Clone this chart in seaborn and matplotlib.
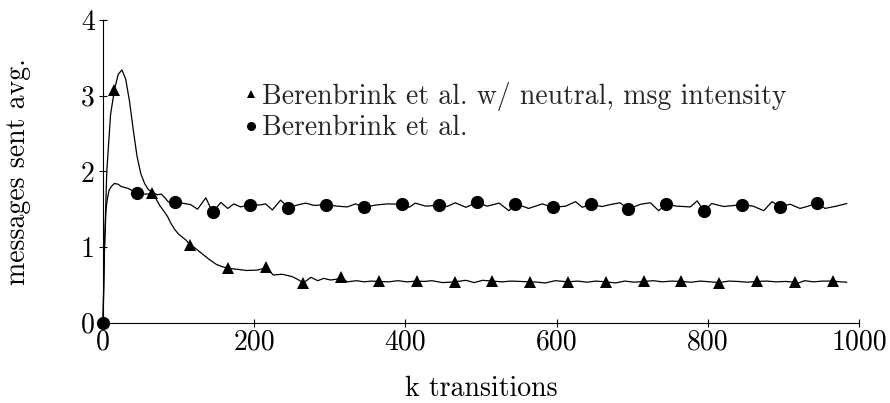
import numpy as np
import pandas as pd
import matplotlib
matplotlib.use("Agg")
import matplotlib.pyplot as plt
import seaborn as sns
from matplotlib.lines import Line2D

# ---- data ----
tri_k = [0, 2, 5, 10, 15, 20, 25, 30, 35, 40, 45, 50, 55, 60, 65, 70, 75, 80, 85, 90,
         95, 100, 105, 110, 115, 120, 130, 140, 150, 158, 165, 178, 190, 204, 210, 215,
         220, 225, 237, 250, 258, 265, 275, 284, 292, 301, 309, 315, 323, 336, 345, 355,
         365, 378, 390, 402, 415, 425, 435, 449, 465, 480, 491, 502, 515, 528, 540, 552,
         565, 575, 585, 598, 615, 628, 640, 652, 665, 678, 690, 703, 715, 728, 740, 752,
         765, 778, 790, 803, 815, 828, 840, 853, 865, 878, 890, 903, 915, 920, 928, 940,
         952, 965, 975, 984]
tri_v = [0.0, 1.0, 2.0, 2.75, 3.07, 3.28, 3.34, 3.22, 2.93, 2.55, 2.2, 1.97, 1.84, 1.76,
         1.72, 1.64, 1.55, 1.48, 1.41, 1.31, 1.23, 1.17, 1.13, 1.09, 1.03, 1.0, 0.92, 0.84,
         0.77, 0.74, 0.72, 0.705, 0.69, 0.695, 0.71, 0.73, 0.69, 0.63, 0.64, 0.61, 0.57,
         0.525, 0.60, 0.555, 0.586, 0.564, 0.575, 0.60, 0.54, 0.555, 0.54, 0.55, 0.545,
         0.54, 0.555, 0.54, 0.55, 0.545, 0.555, 0.53, 0.54, 0.56, 0.53, 0.56, 0.55, 0.54,
         0.55, 0.545, 0.54, 0.535, 0.525, 0.555, 0.54, 0.55, 0.535, 0.55, 0.54, 0.525,
         0.55, 0.535, 0.545, 0.555, 0.54, 0.55, 0.545, 0.535, 0.55, 0.54, 0.53, 0.55,
         0.545, 0.535, 0.545, 0.55, 0.54, 0.545, 0.535, 0.525, 0.555, 0.54, 0.55, 0.55,
         0.54, 0.535]

circ_k = [0, 2, 4, 6, 8, 11, 15, 20, 24, 33, 40, 45, 52, 59, 65, 68, 72, 77, 82, 86, 90,
          95, 105, 116, 125, 136, 145, 156, 165, 173, 182, 195, 207, 215, 224, 235, 245,
          257, 268, 279, 295, 310, 323, 334, 345, 361, 376, 395, 405, 413, 427, 445, 455,
          466, 480, 495, 508, 524, 537, 545, 563, 581, 595, 612, 625, 634, 645, 660, 673,
          684, 695, 711, 724, 735, 745, 759, 777, 786, 795, 805, 821, 845, 860, 874, 885,
          895, 909, 922, 933, 945, 955, 970, 984]
circ_v = [0.0, 1.0, 1.5, 1.65, 1.75, 1.8, 1.84, 1.83, 1.8, 1.775, 1.74, 1.71, 1.70, 1.70,
          1.71, 1.71, 1.69, 1.70, 1.65, 1.60, 1.585, 1.59, 1.58, 1.56, 1.50, 1.65, 1.46,
          1.59, 1.51, 1.57, 1.53, 1.56, 1.555, 1.57, 1.49, 1.62, 1.52, 1.555, 1.58, 1.55,
          1.56, 1.54, 1.53, 1.57, 1.525, 1.555, 1.57, 1.565, 1.525, 1.58, 1.54, 1.555,
          1.535, 1.585, 1.525, 1.59, 1.54, 1.58, 1.48, 1.575, 1.51, 1.57, 1.525, 1.54,
          1.60, 1.525, 1.565, 1.535, 1.565, 1.585, 1.50, 1.565, 1.585, 1.48, 1.565, 1.54,
          1.53, 1.61, 1.47, 1.575, 1.535, 1.56, 1.54, 1.48, 1.60, 1.535, 1.565, 1.51,
          1.54, 1.585, 1.51, 1.54, 1.575]

label_tri = "Berenbrink et al. w/ neutral, msg intensity"
label_circ = "Berenbrink et al."
x_ticks = [0, 200, 400, 600, 800, 1000]
y_ticks = [0, 1, 2, 3, 4]

# ---- styling ----
sns.set_theme(style="ticks")
plt.rcParams["font.family"] = ["cmr10", "DejaVu Serif"]
plt.rcParams["mathtext.fontset"] = "cm"
plt.rcParams["axes.unicode_minus"] = False
plt.rcParams["axes.formatter.use_mathtext"] = True

FS = 20
fig = plt.figure(figsize=(8.9, 4.03), dpi=100)
ax = fig.add_axes([103 / 890, 1 - 322.7 / 403, (859 - 103) / 890, (322.7 - 20) / 403])

tri = pd.DataFrame({"k": tri_k, "v": tri_v})
circ = pd.DataFrame({"k": circ_k, "v": circ_v})
tri_marks = [i for i, k in enumerate(tri_k) if k % 50 == 15]
circ_marks = [i for i, k in enumerate(circ_k) if k == 0 or k % 50 == 45]

sns.lineplot(data=tri, x="k", y="v", ax=ax, color="black", lw=0.9, sort=False,
             estimator=None, marker="^", markevery=tri_marks, ms=8, mec="black",
             mfc="black", mew=0, clip_on=False)
sns.lineplot(data=circ, x="k", y="v", ax=ax, color="black", lw=0.9, sort=False,
             estimator=None, marker="o", markevery=circ_marks, ms=9.5, mec="black",
             mfc="black", mew=0, clip_on=False)

ax.set_xlim(0, 1000)
ax.set_ylim(0, 4)
ax.set_xticks(x_ticks)
ax.set_yticks(y_ticks)
ax.set_xticklabels([str(t) for t in x_ticks])
ax.set_yticklabels([str(t) for t in y_ticks])
ax.tick_params(axis="both", direction="inout", length=6, width=0.8, labelsize=FS,
               colors="black", pad=2)
ax.tick_params(axis="y", pad=3)
sns.despine(ax=ax)
for s in ["left", "bottom"]:
    ax.spines[s].set_linewidth(0.8)
    ax.spines[s].set_color("black")

ax.set_xlabel("k transitions", fontsize=FS, color="black", labelpad=14)
ax.set_ylabel("messages sent avg.", fontsize=FS, color="black", labelpad=36)

handles = [Line2D([], [], ls="none", marker="^", color="black", ms=6, mew=0),
           Line2D([], [], ls="none", marker="o", color="black", ms=6.5, mew=0)]
ax.legend(handles, [label_tri, label_circ], frameon=False, fontsize=FS,
          loc="upper left", bbox_to_anchor=(243 / 890, 1 - 82 / 403),
          bbox_transform=fig.transFigure, handlelength=0.6, handletextpad=0.1,
          labelspacing=0.15, borderpad=0, borderaxespad=0)

fig.savefig("out.png", dpi=100)
